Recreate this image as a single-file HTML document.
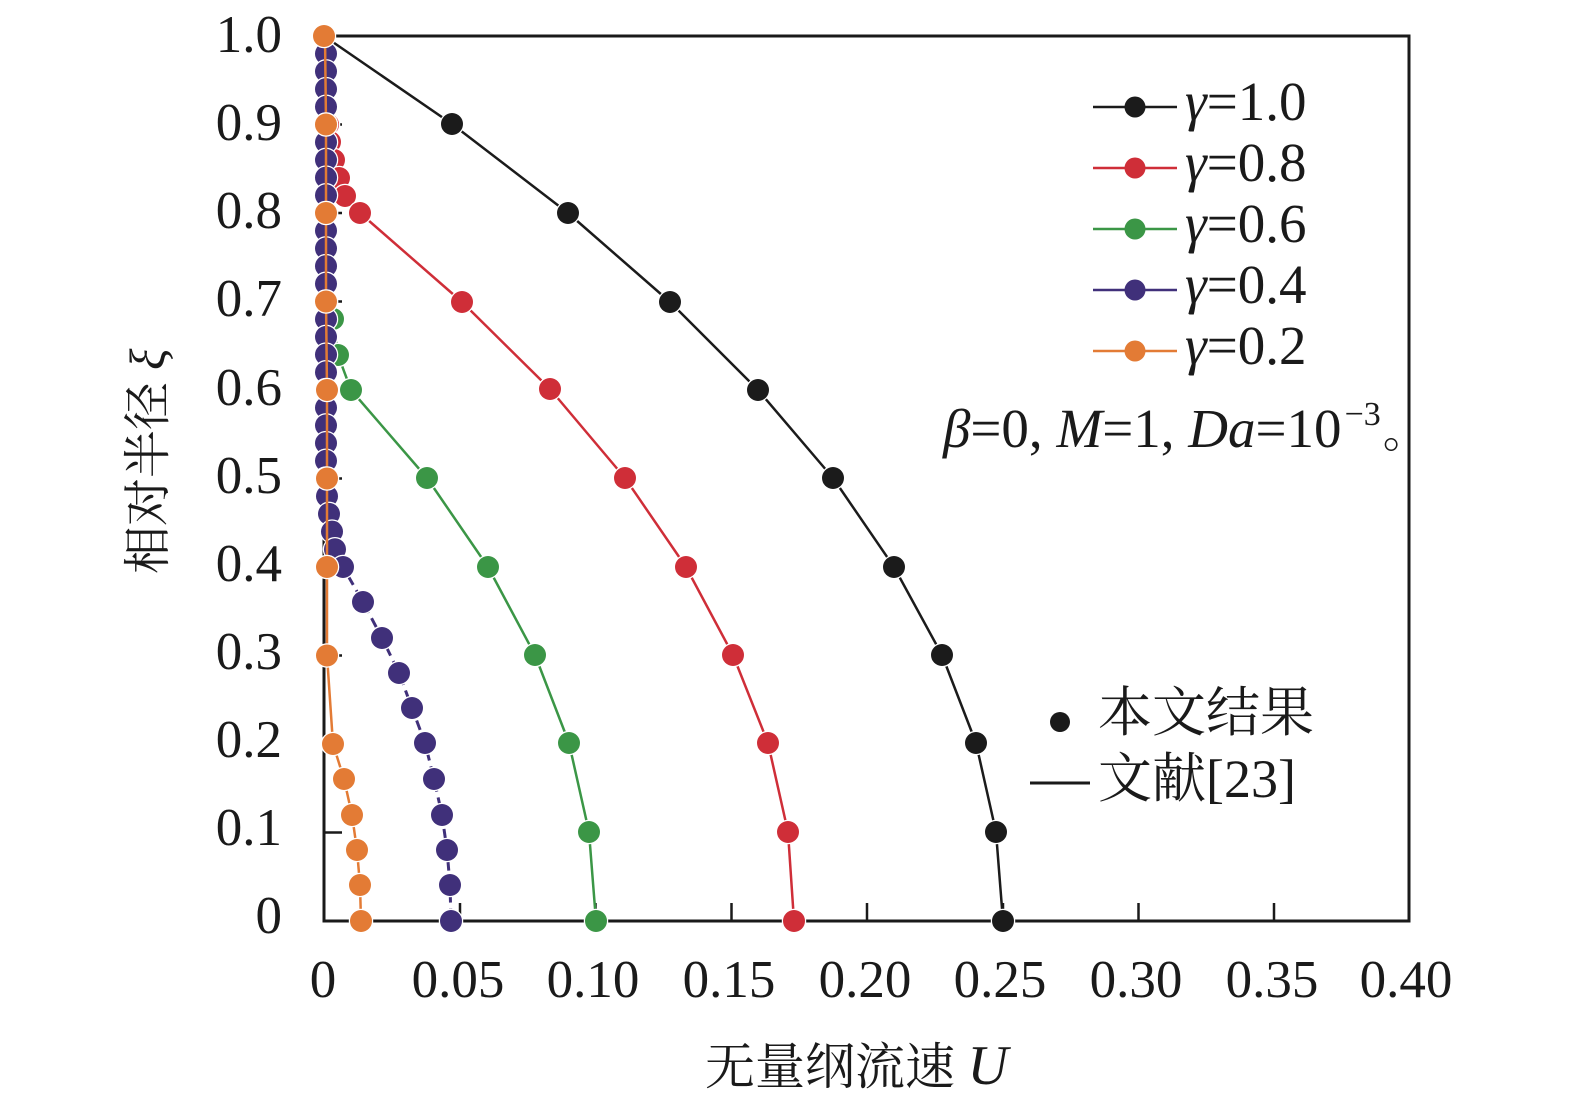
<!DOCTYPE html>
<html><head><meta charset="utf-8"><style>
html,body{margin:0;padding:0;background:#fff;}
svg{display:block;}
text{font-family:"Liberation Serif","Noto Serif CJK SC",serif;fill:#1a1a1a;}
.cjk{font-family:"Noto Serif CJK SC","Liberation Serif",serif;}
</style></head><body>
<svg width="1575" height="1108" viewBox="0 0 1575 1108" xmlns="http://www.w3.org/2000/svg">
<rect width="1575" height="1108" fill="#fff"/>
<!-- ticks -->
<g stroke="#1a1a1a" stroke-width="2.5">
<line x1="324" y1="124.5" x2="342" y2="124.5"/><line x1="324" y1="213" x2="342" y2="213"/>
<line x1="324" y1="301.5" x2="342" y2="301.5"/><line x1="324" y1="390" x2="342" y2="390"/>
<line x1="324" y1="478.5" x2="342" y2="478.5"/><line x1="324" y1="567" x2="342" y2="567"/>
<line x1="324" y1="655.5" x2="342" y2="655.5"/><line x1="324" y1="744" x2="342" y2="744"/>
<line x1="324" y1="832.5" x2="342" y2="832.5"/>
<line x1="460" y1="921" x2="460" y2="903"/><line x1="595.5" y1="921" x2="595.5" y2="903"/>
<line x1="731.5" y1="921" x2="731.5" y2="903"/><line x1="867" y1="921" x2="867" y2="903"/>
<line x1="1003" y1="921" x2="1003" y2="903"/><line x1="1138.5" y1="921" x2="1138.5" y2="903"/>
<line x1="1274" y1="921" x2="1274" y2="903"/>
</g>
<rect x="324" y="36" width="1085" height="885" fill="none" stroke="#1a1a1a" stroke-width="3"/>

<!-- y tick labels -->
<g font-size="53" text-anchor="end">
<text x="282" y="52">1.0</text><text x="282" y="140">0.9</text><text x="282" y="228">0.8</text>
<text x="282" y="316">0.7</text><text x="282" y="405">0.6</text><text x="282" y="493">0.5</text>
<text x="282" y="581">0.4</text><text x="282" y="669">0.3</text><text x="282" y="757">0.2</text>
<text x="282" y="845">0.1</text><text x="282" y="933">0</text>
</g>
<!-- x tick labels -->
<g font-size="53" text-anchor="middle">
<text x="323" y="997">0</text><text x="458" y="997">0.05</text><text x="593" y="997">0.10</text>
<text x="729" y="997">0.15</text><text x="865" y="997">0.20</text><text x="1000" y="997">0.25</text>
<text x="1136" y="997">0.30</text><text x="1272" y="997">0.35</text><text x="1406" y="997">0.40</text>
</g>
<!-- axis titles -->
<text x="705" y="1084" font-size="50"><tspan class="cjk">无量纲流速</tspan> <tspan font-style="italic" font-size="56">U</tspan></text>
<text transform="translate(164,574) rotate(-90)" font-size="48"><tspan class="cjk">相对半径</tspan> <tspan font-style="italic" font-size="50">ξ</tspan></text>

<!-- series lines -->
<g fill="none" stroke-linejoin="round">
<polyline stroke="#1b1b1b" stroke-width="2.5" points="324,36 452,124 568,213 670,302 758,390 833,478 894,567 942,655 976,743 996,832 1003,921"/>
<polyline stroke="#cf2e38" stroke-width="2.5" points="324,36 325,54 325,71 326,89 327,107 328,124.5 330,142 334,160 339,178 345,196 360,213 462,302 550,389 625,478 686,567 733,655 768,743 788,832 794,921"/>
<polyline stroke="#3b9646" stroke-width="2.5" points="324,36 324.5,71 325,107 325.5,142 326,178 327,213 328,248 330,284 333,319 338,355 351,390 427,478 488,567 535,655 569,743 589,832 596,921"/>
<polyline stroke="#40307a" stroke-width="3" stroke-dasharray="10 6" points="326,36 326,478.5 327,496.2 329,513.9 332,531.6 335,549.3 343,567 363,602 382,638 399,673 412,708 425,743 434,779 442,815 447,850 450,885 451,921"/>
</g>

<!-- markers -->
<g stroke="#fff" stroke-width="2.5" paint-order="stroke">
<g fill="#1b1b1b">
<circle cx="452" cy="124" r="11"/><circle cx="568" cy="213" r="11"/><circle cx="670" cy="302" r="11"/>
<circle cx="758" cy="390" r="11"/><circle cx="833" cy="478" r="11"/><circle cx="894" cy="567" r="11"/>
<circle cx="942" cy="655" r="11"/><circle cx="976" cy="743" r="11"/><circle cx="996" cy="832" r="11"/>
<circle cx="1003" cy="921" r="11"/>
</g>
<g fill="#cf2e38">
<circle cx="325" cy="54" r="11"/><circle cx="325" cy="71" r="11"/><circle cx="326" cy="89" r="11"/>
<circle cx="327" cy="107" r="11"/><circle cx="328" cy="124.5" r="11"/><circle cx="330" cy="142" r="11"/>
<circle cx="334" cy="160" r="11"/><circle cx="339" cy="178" r="11"/><circle cx="345" cy="196" r="11"/>
<circle cx="360" cy="213" r="11"/><circle cx="462" cy="302" r="11"/><circle cx="550" cy="389" r="11"/>
<circle cx="625" cy="478" r="11"/><circle cx="686" cy="567" r="11"/><circle cx="733" cy="655" r="11"/>
<circle cx="768" cy="743" r="11"/><circle cx="788" cy="832" r="11"/><circle cx="794" cy="921" r="11"/>
</g>
<g fill="#3b9646">
<circle cx="333" cy="319" r="11"/><circle cx="338" cy="355" r="11"/><circle cx="351" cy="390" r="11"/>
<circle cx="427" cy="478" r="11"/><circle cx="488" cy="567" r="11"/><circle cx="535" cy="655" r="11"/>
<circle cx="569" cy="743" r="11"/><circle cx="589" cy="832" r="11"/><circle cx="596" cy="921" r="11"/>
</g>
<g fill="#40307a">
<circle cx="326" cy="53.7" r="11"/><circle cx="326" cy="71.4" r="11"/><circle cx="326" cy="89.1" r="11"/>
<circle cx="326" cy="106.8" r="11"/><circle cx="326" cy="124.5" r="11"/><circle cx="326" cy="142.2" r="11"/>
<circle cx="326" cy="159.9" r="11"/><circle cx="326" cy="177.6" r="11"/><circle cx="326" cy="195.3" r="11"/>
<circle cx="326" cy="213" r="11"/><circle cx="326" cy="230.7" r="11"/><circle cx="326" cy="248.4" r="11"/>
<circle cx="326" cy="266.1" r="11"/><circle cx="326" cy="283.8" r="11"/><circle cx="326" cy="301.5" r="11"/>
<circle cx="326" cy="319.2" r="11"/><circle cx="326" cy="336.9" r="11"/><circle cx="326" cy="354.6" r="11"/>
<circle cx="326" cy="372.3" r="11"/><circle cx="326" cy="390" r="11"/><circle cx="326" cy="407.7" r="11"/>
<circle cx="326" cy="425.4" r="11"/><circle cx="326" cy="443.1" r="11"/><circle cx="326" cy="460.8" r="11"/>
<circle cx="326" cy="478.5" r="11"/><circle cx="327" cy="496.2" r="11"/><circle cx="329" cy="513.9" r="11"/>
<circle cx="332" cy="531.6" r="11"/><circle cx="335" cy="549.3" r="11"/><circle cx="343" cy="567" r="11"/>
<circle cx="363" cy="602" r="11"/><circle cx="382" cy="638" r="11"/><circle cx="399" cy="673" r="11"/>
<circle cx="412" cy="708" r="11"/><circle cx="425" cy="743" r="11"/><circle cx="434" cy="779" r="11"/>
<circle cx="442" cy="815" r="11"/><circle cx="447" cy="850" r="11"/><circle cx="450" cy="885" r="11"/>
<circle cx="451" cy="921" r="11"/>
</g>
</g>
<!-- orange on top -->
<polyline fill="none" stroke="#e37b35" stroke-width="2.5" points="325,36 326,124.5 326,213 326,301.5 327,390 327,478.5 327,567 327,655.5 333,744 344,779 352,815 357,850 360,885 361,921"/>
<g stroke="#fff" stroke-width="2.5" paint-order="stroke" fill="#e37b35">
<circle cx="324" cy="36" r="11"/><circle cx="326" cy="124.5" r="11"/><circle cx="326" cy="213" r="11"/>
<circle cx="326" cy="301.5" r="11"/><circle cx="327" cy="390" r="11"/><circle cx="327" cy="478.5" r="11"/>
<circle cx="327" cy="567" r="11"/><circle cx="327" cy="655.5" r="11"/><circle cx="333" cy="744" r="11"/>
<circle cx="344" cy="779" r="11"/><circle cx="352" cy="815" r="11"/><circle cx="357" cy="850" r="11"/>
<circle cx="360" cy="885" r="11"/><circle cx="361" cy="921" r="11"/>
</g>

<!-- legend -->
<g stroke-width="2.5">
<line x1="1093" y1="107" x2="1177" y2="107" stroke="#1b1b1b"/>
<line x1="1093" y1="168" x2="1177" y2="168" stroke="#cf2e38"/>
<line x1="1093" y1="229" x2="1177" y2="229" stroke="#3b9646"/>
<line x1="1093" y1="290" x2="1177" y2="290" stroke="#40307a"/>
<line x1="1093" y1="351" x2="1177" y2="351" stroke="#e37b35"/>
</g>
<circle cx="1135" cy="107" r="10.5" fill="#1b1b1b"/>
<circle cx="1135" cy="168" r="10.5" fill="#cf2e38"/>
<circle cx="1135" cy="229" r="10.5" fill="#3b9646"/>
<circle cx="1135" cy="290" r="10.5" fill="#40307a"/>
<circle cx="1135" cy="351" r="10.5" fill="#e37b35"/>
<g font-size="55">
<text x="1185" y="120"><tspan font-style="italic">γ</tspan>=1.0</text>
<text x="1185" y="181"><tspan font-style="italic">γ</tspan>=0.8</text>
<text x="1185" y="242"><tspan font-style="italic">γ</tspan>=0.6</text>
<text x="1185" y="303"><tspan font-style="italic">γ</tspan>=0.4</text>
<text x="1185" y="364"><tspan font-style="italic">γ</tspan>=0.2</text>
</g>
<!-- annotation -->
<text x="943" y="447" font-size="55"><tspan font-style="italic">β</tspan>=0, <tspan font-style="italic">M</tspan>=1, <tspan font-style="italic">Da</tspan>=10<tspan font-size="34" dy="-22" dx="3">−3</tspan><tspan class="cjk" dy="22" dx="2" font-size="46">。</tspan></text>

<!-- method legend -->
<circle cx="1060" cy="722" r="10" fill="#1a1a1a"/>
<text x="1098" y="731" font-size="54" class="cjk">本文结果</text>
<line x1="1030" y1="783" x2="1090" y2="783" stroke="#1a1a1a" stroke-width="3"/>
<text x="1098" y="797" font-size="54"><tspan class="cjk">文献</tspan>[23]</text>
</svg>
</body></html>
